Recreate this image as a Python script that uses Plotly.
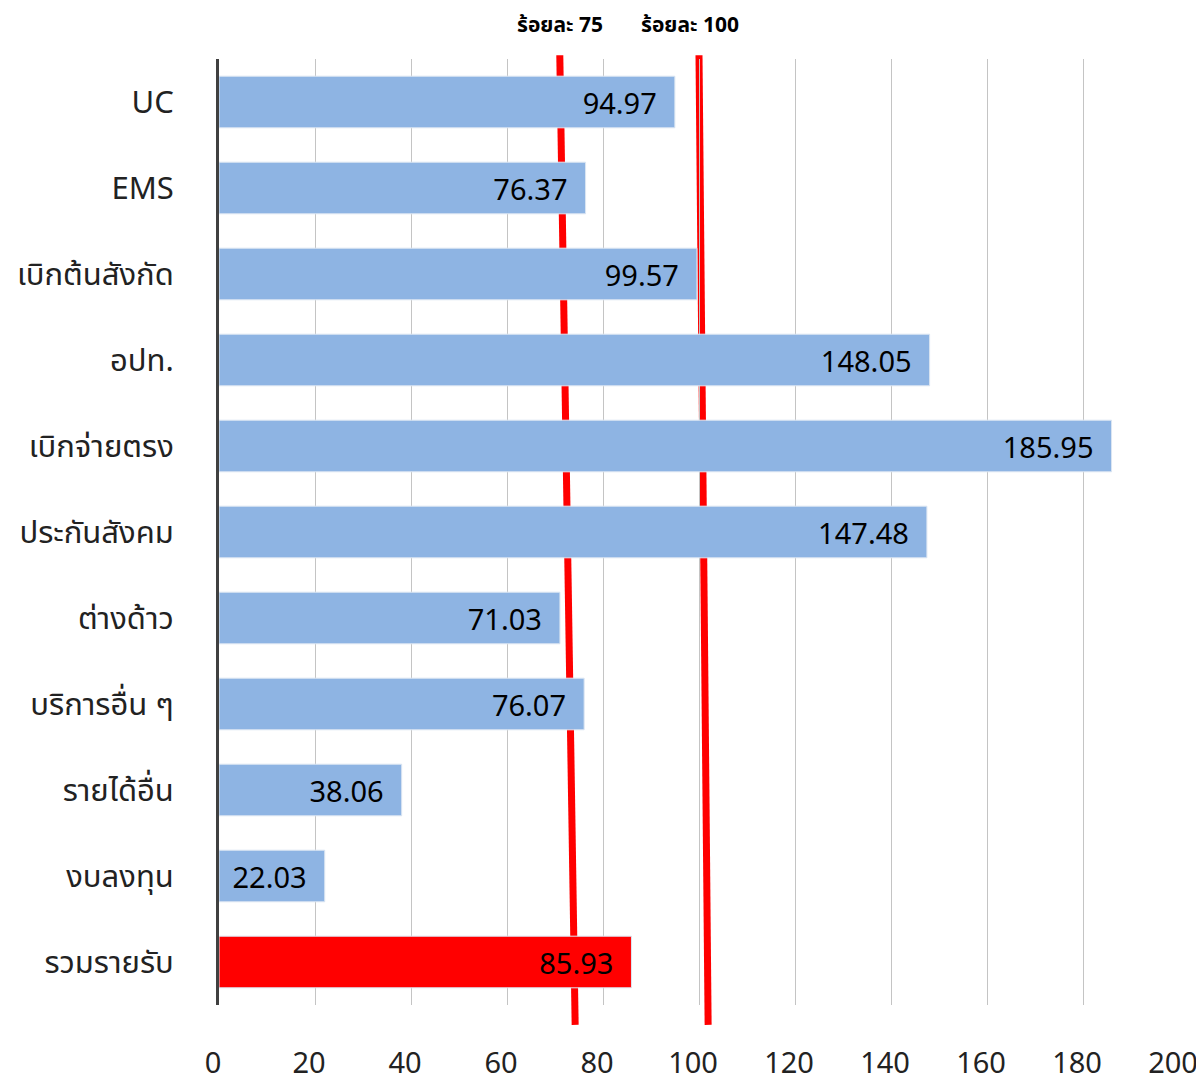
import plotly.graph_objects as go

# categories and percentages (top to bottom)
categories = ["UC", "EMS", "เบิกต้นสังกัด", "อปท.", "เบิกจ่ายตรง", "ประกันสังคม",
              "ต่างด้าว", "บริการอื่น ๆ", "รายได้อื่น", "งบลงทุน", "รวมรายรับ"]
values = [94.97, 76.37, 99.57, 148.05, 185.95, 147.48, 71.03, 76.07, 38.06, 22.03, 85.93]
bar_colors = ["#8eb4e3"] * 10 + ["#ff0000"]

# hand drawn target lines: x at top and bottom of the plot
ref_names = ["ร้อยละ 75", "ร้อยละ 100"]
ref_top = [71.0, 100.0]
ref_bottom = [74.2, 101.9]

font = "Noto Sans, Noto Sans Thai, sans-serif"

fig = go.Figure()
fig.add_trace(go.Bar(
    y=categories, x=values, orientation="h",
    marker=dict(color=bar_colors, line=dict(color="#dce6f2", width=1)),
    width=0.6,
    text=[f"{v:.2f}\u00a0\u00a0" for v in values],
    textposition="inside", insidetextanchor="end",
    textfont=dict(size=29, color="black", family=font),
    cliponaxis=False,
))

label_shift = [0, -9]
for name, x0, x1, dx in zip(ref_names, ref_top, ref_bottom, label_shift):
    # lines sit behind the bars
    fig.add_shape(type="line", xref="x", yref="paper", x0=x0, y0=1.004, x1=x1, y1=-0.021,
                  line=dict(color="#ff0000", width=7), layer="below")
    fig.add_annotation(x=x0, y=1.0, xref="x", yref="paper", yshift=35, xshift=dx,
                       yanchor="middle", text="<b>" + name + "</b>",
                       showarrow=False, font=dict(size=21, color="black", family=font))

# page body has an 8px margin, so the figure is made 8px smaller to fit the window
fig.update_layout(
    width=1196, height=1072,
    margin=dict(l=211, r=25, t=51, b=75),
    paper_bgcolor="white", plot_bgcolor="white",
    showlegend=False,
    font=dict(family=font, color="#222"),
    xaxis=dict(range=[0, 200], dtick=20, showgrid=True, gridcolor="#c4c4c4", gridwidth=1,
               zeroline=False, showline=False, tickfont=dict(size=29, color="#222"),
               ticklabelstandoff=38, ticklabelshift=-6, automargin=False),
    yaxis=dict(autorange="reversed", showline=True, linecolor="#404040", linewidth=3,
               showgrid=False, tickfont=dict(size=31, color="#222"), ticklabelstandoff=36,
               automargin=False),
)

fig.write_html("out.html")
